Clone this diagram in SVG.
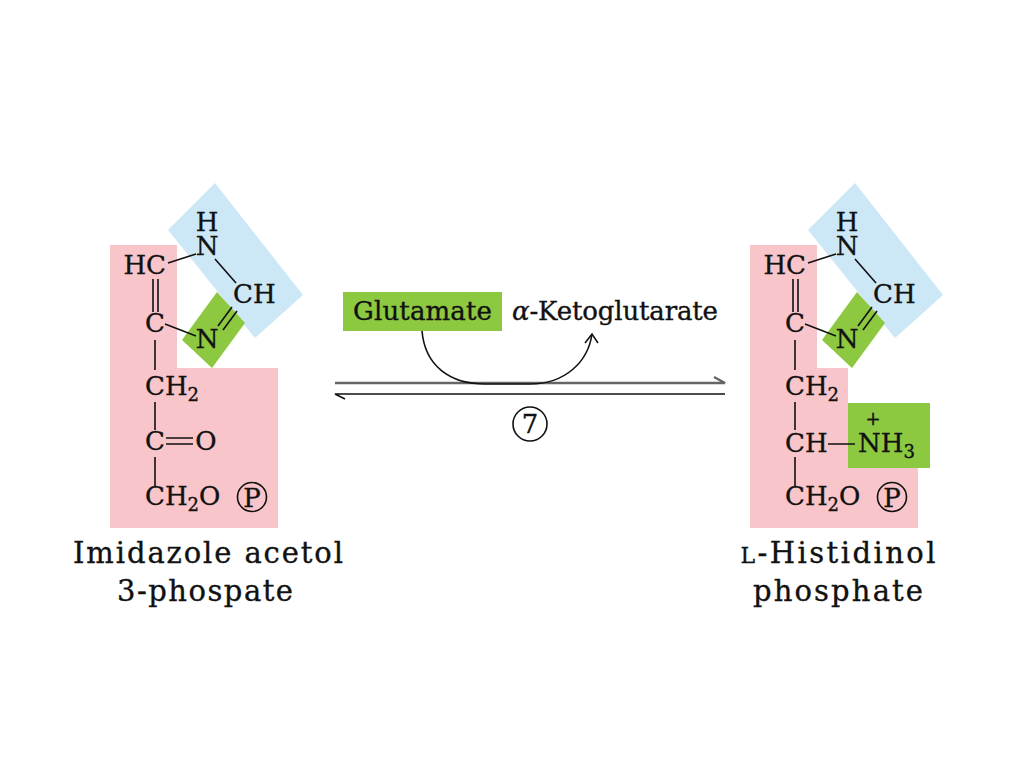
<svg xmlns="http://www.w3.org/2000/svg" width="1024" height="768" viewBox="0 0 1024 768">
<style>
.t{font-family:"DejaVu Serif","Liberation Serif",serif;font-size:26px;fill:#111;stroke:#111;stroke-width:0.35px}
.lab{font-size:29px}
.s{font-size:18px}
.m{text-anchor:middle}
.e{text-anchor:end}
.b{stroke:#111;stroke-width:1.6;fill:none}
.pink{fill:#f8c5ca}
.blue{fill:#cce8f7}
.green{fill:#8cc840}
</style>
<rect width="1024" height="768" fill="#fff"/>

<g id="imidazole-acetol-3-phosphate">
  <polygon class="pink" points="110,245 177,245 177,368 278,368 278,528 110,528"/>
  <polygon class="blue" points="168,230 215,183 303,295 255,338"/>
  <polygon class="green" points="182,340 217,292 245,323 212,368"/>
  <text class="t m" x="207" y="231" font-size="25">H<tspan x="207" dy="24">N</tspan></text>
  <text class="t e" x="166" y="274">HC</text>
  <text class="t" x="233" y="303">CH</text>
  <text class="t m" x="155" y="332">C</text>
  <text class="t m" x="207" y="348">N</text>
  <text class="t" x="145" y="395">CH<tspan class="s" dy="6">2</tspan></text>
  <text class="t m" x="155" y="450">C</text>
  <text class="t m" x="206" y="450">O</text>
  <text class="t" x="145" y="505">CH<tspan class="s" dy="6">2</tspan><tspan dy="-6">O</tspan></text>
  <circle cx="252" cy="497" r="14.5" class="b"/>
  <text class="t m" x="252" y="507" font-size="27">P</text>
  <path class="b" d="M168,263 L196,254 M215,259 L236,283 M232,307 L218,326 M237,311 L223,330 M153,279 V312 M158,279 V312 M165,324 L196,336 M155,340 V370 M155,402 V430 M166,438 H193 M166,444 H193 M155,457 V486"/>
  <text class="t m lab" x="208" y="563" textLength="270">Imidazole acetol</text>
  <text class="t m lab" x="205" y="601" textLength="176">3-phospate</text>
</g>

<g id="L-histidinol-phosphate">
  <polygon class="pink" points="750,245 817,245 817,368 848,368 848,468 918,468 918,528 750,528"/>
  <polygon class="blue" points="808,230 855,183 943,295 895,338"/>
  <polygon class="green" points="822,340 857,292 885,323 852,368"/>
  <rect class="green" x="848" y="403" width="82" height="65"/>
  <text class="t m" x="847" y="231" font-size="25">H<tspan x="847" dy="24">N</tspan></text>
  <text class="t e" x="806" y="274">HC</text>
  <text class="t" x="873" y="303">CH</text>
  <text class="t m" x="795" y="332">C</text>
  <text class="t m" x="847" y="348">N</text>
  <text class="t" x="785" y="395">CH<tspan class="s" dy="6">2</tspan></text>
  <text class="t" x="785" y="452">CH</text>
  <text class="t" x="858" y="452">NH<tspan class="s" dy="6">3</tspan></text>
  <text class="t m s" x="873" y="425">+</text>
  <text class="t" x="785" y="505">CH<tspan class="s" dy="6">2</tspan><tspan dy="-6">O</tspan></text>
  <circle cx="892" cy="497" r="14.5" class="b"/>
  <text class="t m" x="892" y="507" font-size="27">P</text>
  <path class="b" d="M808,263 L836,254 M855,259 L876,283 M872,307 L858,326 M877,311 L863,330 M793,279 V312 M798,279 V312 M805,324 L836,336 M795,340 V370 M795,402 V430 M828,444 H855 M795,457 V486"/>
  <text class="t m lab" x="838" y="563" textLength="195"><tspan font-size="22">L</tspan>-Histidinol</text>
  <text class="t m lab" x="838" y="601" textLength="170">phosphate</text>
</g>

<g id="glutamate">
  <rect class="green" x="343" y="292" width="159" height="39"/>
  <text class="t" x="353" y="320" textLength="139">Glutamate</text>
</g>
<g id="alpha-ketoglutarate">
  <text class="t" x="512" y="320" textLength="206"><tspan font-style="italic">α</tspan>-Ketoglutarate</text>
</g>
<g id="step-7">
  <circle cx="530" cy="424" r="17" class="b"/>
  <text class="t m" x="530" y="433">7</text>
</g>

<g id="connectors">
  <path d="M335,383 H725 L714,377" stroke="#666" stroke-width="2.4" fill="none"/>
  <path class="b" d="M725,394 H335 L345,399"/>
  <path class="b" stroke-width="1.4" d="M422,331 C425,366 450,384 485,384 L530,384 C565,384 588,362 592,334"/>
  <path class="b" stroke-width="1.4" d="M585,343 L592,334 L598,343"/>
</g>
</svg>
